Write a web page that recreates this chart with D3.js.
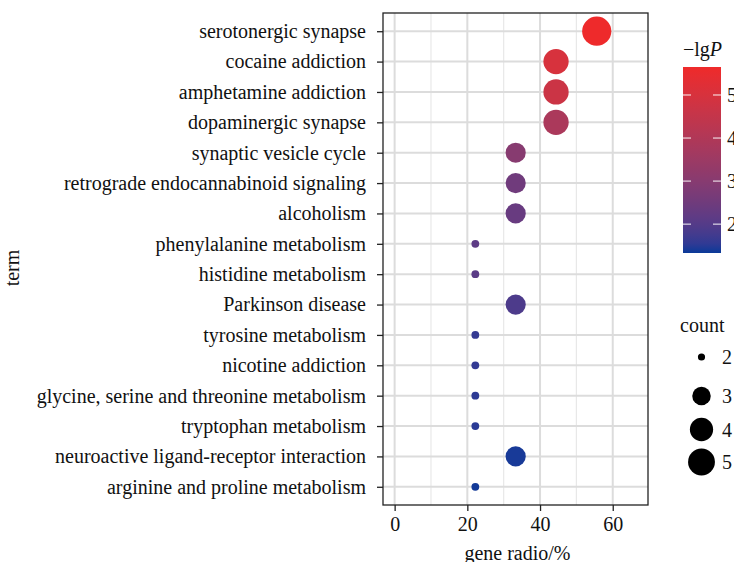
<!DOCTYPE html>
<html>
<head>
<meta charset="utf-8">
<script src="https://cdn.jsdelivr.net/npm/d3@7"></script>
<style>
  html, body { margin: 0; padding: 0; background: #fff; }
  svg { display: block; font-family: "Liberation Serif", "Times New Roman", serif; }
</style>
</head>
<body>
<svg id="chart" width="734" height="562"></svg>
<script>
// Enrichment terms, top to bottom
const terms = [
  "serotonergic synapse",
  "cocaine addiction",
  "amphetamine addiction",
  "dopaminergic synapse",
  "synaptic vesicle cycle",
  "retrograde endocannabinoid signaling",
  "alcoholism",
  "phenylalanine metabolism",
  "histidine metabolism",
  "Parkinson disease",
  "tyrosine metabolism",
  "nicotine addiction",
  "glycine, serine and threonine metabolism",
  "tryptophan metabolism",
  "neuroactive ligand-receptor interaction",
  "arginine and proline metabolism"
];
// gene counts per term
const counts = [5, 4, 4, 4, 3, 3, 3, 2, 2, 3, 2, 2, 2, 2, 3, 2];
// gene ratio (%)
const geneRatio = [55.6, 44.4, 44.4, 44.4, 33.3, 33.3, 33.3, 22.2, 22.2, 33.3, 22.2, 22.2, 22.2, 22.2, 33.3, 22.2];
// -lg P
const negLogP = [5.62, 5.0, 4.7, 3.85, 3.0, 2.5, 2.35, 2.15, 2.1, 1.9, 1.6, 1.58, 1.52, 1.5, 1.38, 1.36];

const xTicks = [0, 20, 40, 60];
const colorTicks = [2, 3, 4, 5];
const sizeTicks = [2, 3, 4, 5];

const data = terms.map((t, i) => ({ term: t, count: counts[i], ratio: geneRatio[i], p: negLogP[i] }));

const svg = d3.select("#chart");
const panel = { left: 383, right: 648, top: 13, bottom: 505 };
const serif = "'Liberation Serif', 'Times New Roman', serif";
const fs = 20;

const x = d3.scaleLinear().domain([-3.2, 69.7]).range([panel.left, panel.right]);
const y = d3.scalePoint().domain(terms).range([panel.top, panel.bottom]).padding(0.6);

const colorDomain = [1.33, 5.65];
const color = d3.scaleLinear().domain(colorDomain).range(["#0A3A99", "#EF2A2A"]).interpolate(d3.interpolateLab);

// point area grows with sqrt of the rescaled count
const sizeNorm = d3.scaleLinear().domain([2, 5]).range([0, 1]);
const radiusLin = d3.scaleLinear().domain([0, 1]).range([3.9, 14.6]);
const radius = c => radiusLin(Math.sqrt(sizeNorm(c)));

// panel background and grid
const g = svg.append("g");
g.append("rect").attr("x", panel.left).attr("y", panel.top)
  .attr("width", panel.right - panel.left).attr("height", panel.bottom - panel.top)
  .attr("fill", "#fff");

const minorX = [10, 30, 50];
g.selectAll(".minor").data(minorX).join("line")
  .attr("x1", d => x(d)).attr("x2", d => x(d))
  .attr("y1", panel.top).attr("y2", panel.bottom)
  .attr("stroke", "#e8e8e8").attr("stroke-width", 1.2);
g.selectAll(".majorx").data(xTicks).join("line")
  .attr("x1", d => x(d)).attr("x2", d => x(d))
  .attr("y1", panel.top).attr("y2", panel.bottom)
  .attr("stroke", "#dcdcdc").attr("stroke-width", 2);
g.selectAll(".majory").data(terms).join("line")
  .attr("x1", panel.left).attr("x2", panel.right)
  .attr("y1", d => y(d)).attr("y2", d => y(d))
  .attr("stroke", "#dcdcdc").attr("stroke-width", 2);

// points
g.selectAll(".pt").data(data).join("circle")
  .attr("cx", d => x(d.ratio)).attr("cy", d => y(d.term))
  .attr("r", d => radius(d.count))
  .attr("fill", d => color(d.p));

// panel border
g.append("rect").attr("x", panel.left).attr("y", panel.top)
  .attr("width", panel.right - panel.left).attr("height", panel.bottom - panel.top)
  .attr("fill", "none").attr("stroke", "#222").attr("stroke-width", 1.3);

// axes
const yAxis = svg.append("g").attr("transform", `translate(${panel.left},0)`)
  .call(d3.axisLeft(y).tickSize(6).tickPadding(11));
const xAxis = svg.append("g").attr("transform", `translate(0,${panel.bottom})`)
  .call(d3.axisBottom(x).tickValues(xTicks).tickSize(6).tickPadding(6));
[yAxis, xAxis].forEach(a => {
  a.select(".domain").remove();
  a.selectAll(".tick line").attr("stroke", "#222").attr("stroke-width", 1.3);
  a.selectAll(".tick text").attr("fill", "#111").style("font-size", fs + "px").style("font-family", serif);
});

// axis titles
svg.append("text").attr("x", (panel.left + panel.right) / 2 + 2).attr("y", 560)
  .attr("text-anchor", "middle").style("font-size", fs + "px").attr("fill", "#111")
  .text("gene radio/%");
svg.append("text").attr("transform", `translate(19,268) rotate(-90)`)
  .attr("text-anchor", "middle").style("font-size", fs + "px").attr("fill", "#111")
  .text("term");

// colour bar legend
const bar = { x: 683, w: 38, top: 67, bottom: 253 };
const cy = d3.scaleLinear().domain(colorDomain).range([bar.bottom, bar.top]);
const grad = svg.append("defs").append("linearGradient").attr("id", "pgrad")
  .attr("x1", 0).attr("y1", 1).attr("x2", 0).attr("y2", 0);
d3.range(0, 1.0001, 0.05).forEach(t => {
  grad.append("stop").attr("offset", t)
    .attr("stop-color", color(colorDomain[0] + t * (colorDomain[1] - colorDomain[0])));
});
svg.append("rect").attr("x", bar.x).attr("y", bar.top).attr("width", bar.w)
  .attr("height", bar.bottom - bar.top).attr("fill", "url(#pgrad)");
const ct = svg.append("g");
colorTicks.forEach(v => {
  ct.append("line").attr("x1", bar.x).attr("x2", bar.x + 8).attr("y1", cy(v)).attr("y2", cy(v))
    .attr("stroke", "#fff").attr("stroke-opacity", 0.8).attr("stroke-width", 1.2);
  ct.append("line").attr("x1", bar.x + bar.w - 8).attr("x2", bar.x + bar.w).attr("y1", cy(v)).attr("y2", cy(v))
    .attr("stroke", "#fff").attr("stroke-opacity", 0.8).attr("stroke-width", 1.2);
  ct.append("text").attr("x", bar.x + bar.w + 6).attr("y", cy(v)).attr("dy", "0.35em")
    .style("font-size", fs + "px").attr("fill", "#111").text(v);
});
const lt = svg.append("text").attr("x", bar.x).attr("y", 56).style("font-size", fs + "px").attr("fill", "#111");
lt.append("tspan").text("\u2212lg");
lt.append("tspan").style("font-style", "italic").text("P");

// size legend
svg.append("text").attr("x", 680).attr("y", 332).style("font-size", fs + "px").attr("fill", "#111").text("count");
const keyY = [357, 396, 429.5, 462];
sizeTicks.forEach((c, i) => {
  svg.append("circle").attr("cx", 701.5).attr("cy", keyY[i]).attr("r", radius(c) * 0.92).attr("fill", "#000");
  svg.append("text").attr("x", 722).attr("y", keyY[i]).attr("dy", "0.35em")
    .style("font-size", fs + "px").attr("fill", "#111").text(c);
});
</script>
</body>
</html>
